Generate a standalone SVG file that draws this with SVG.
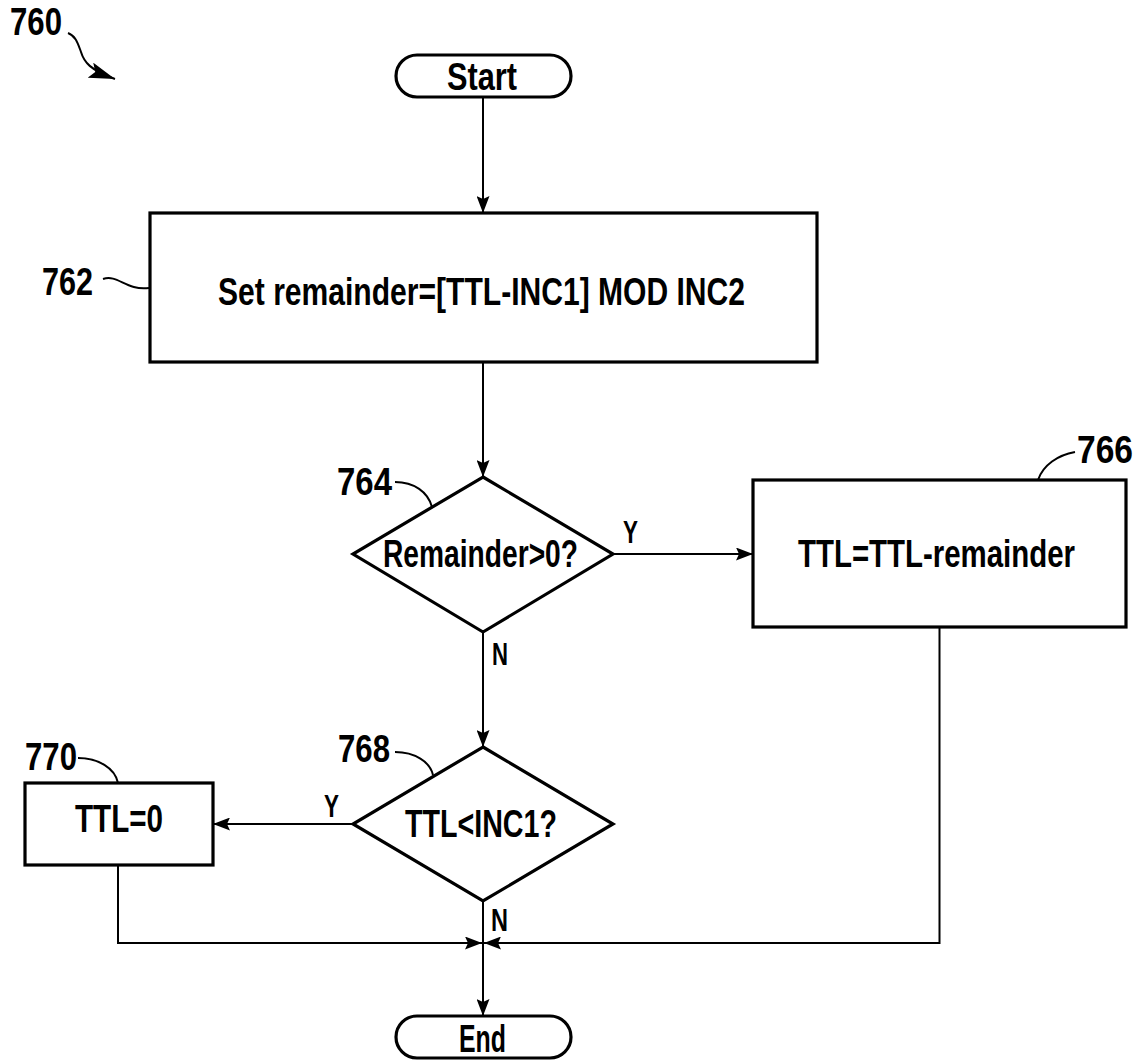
<svg xmlns="http://www.w3.org/2000/svg" width="1144" height="1060" viewBox="0 0 1144 1060">
<style>
.s{fill:#fff;stroke:#000;stroke-width:3.2}
.c{fill:none;stroke:#000;stroke-width:2}
.l{fill:none;stroke:#000;stroke-width:2}
text{font-family:"Liberation Sans",Arial,sans-serif;fill:#000;font-size:38px;font-weight:bold}
.y{font-size:31px}
</style>
<defs>
<marker id="b" viewBox="0 0 17 13" refX="17" refY="6.5" markerWidth="17" markerHeight="13" markerUnits="userSpaceOnUse" orient="auto"><path d="M0,0L17,6.5L0,13L3,6.5z" fill="#000"/></marker>
<marker id="big" viewBox="0 0 26 16" refX="26" refY="8" markerWidth="26" markerHeight="16" markerUnits="userSpaceOnUse" orient="auto"><path d="M0,0L26,8L0,16L5,8z" fill="#000"/></marker>
</defs>
<g id="label760">
<text x="10" y="35" textLength="52" lengthAdjust="spacingAndGlyphs">760</text>
<path class="l" d="M68,33 C76,36 78,44 81,52 C84,62 90,70 115,79" marker-end="url(#big)"/>
</g>
<g id="connectors">
<line class="c" x1="483" y1="97" x2="483" y2="213" marker-end="url(#b)"/>
<line class="c" x1="483" y1="362" x2="483" y2="477" marker-end="url(#b)"/>
<line class="c" x1="613" y1="554" x2="753" y2="554" marker-end="url(#b)"/>
<line class="c" x1="483" y1="632" x2="483" y2="747" marker-end="url(#b)"/>
<line class="c" x1="353" y1="824" x2="213" y2="824" marker-end="url(#b)"/>
<polyline class="c" points="939.5,627 939.5,943 484,943" marker-end="url(#b)"/>
<polyline class="c" points="118,865 118,943 482,943" marker-end="url(#b)"/>
<line class="c" x1="483" y1="901" x2="483" y2="1016" marker-end="url(#b)"/>
<text class="y" x="623" y="543" textLength="15" lengthAdjust="spacingAndGlyphs">Y</text>
<text class="y" x="492" y="665" textLength="16" lengthAdjust="spacingAndGlyphs">N</text>
<text class="y" x="324" y="817" textLength="15" lengthAdjust="spacingAndGlyphs">Y</text>
<text class="y" x="491" y="931" textLength="17" lengthAdjust="spacingAndGlyphs">N</text>
</g>
<g id="start">
<rect class="s" x="396" y="55" width="175" height="42" rx="21"/>
<text x="447" y="90" textLength="70" lengthAdjust="spacingAndGlyphs">Start</text>
</g>
<g id="n762">
<rect class="s" x="150" y="213" width="667" height="149"/>
<text x="218" y="305" textLength="527" lengthAdjust="spacingAndGlyphs">Set remainder=[TTL-INC1] MOD INC2</text>
<text x="42" y="295" textLength="51" lengthAdjust="spacingAndGlyphs">762</text>
<path class="l" d="M103,279 C118,274 126,291 149,288"/>
</g>
<g id="n764">
<polygon class="s" points="483,477 613,554 483,632 353,554"/>
<text x="383" y="567" textLength="195" lengthAdjust="spacingAndGlyphs">Remainder&gt;0?</text>
<text x="337" y="495" textLength="55" lengthAdjust="spacingAndGlyphs">764</text>
<path class="l" d="M395,482 C414,482 428,492 432,507"/>
</g>
<g id="n766">
<rect class="s" x="753" y="480" width="373" height="147"/>
<text x="798" y="567" textLength="277" lengthAdjust="spacingAndGlyphs">TTL=TTL-remainder</text>
<text x="1077" y="463" textLength="56" lengthAdjust="spacingAndGlyphs">766</text>
<path class="l" d="M1075,452 C1058,455 1043,465 1038,480"/>
</g>
<g id="n768">
<polygon class="s" points="483,747 613,824 483,901 353,824"/>
<text x="405" y="837" textLength="152" lengthAdjust="spacingAndGlyphs">TTL&lt;INC1?</text>
<text x="338" y="762" textLength="52" lengthAdjust="spacingAndGlyphs">768</text>
<path class="l" d="M395,752 C415,752 430,762 433,775"/>
</g>
<g id="n770">
<rect class="s" x="25" y="783" width="188" height="82"/>
<text x="75" y="832" textLength="88" lengthAdjust="spacingAndGlyphs">TTL=0</text>
<text x="25" y="770" textLength="52" lengthAdjust="spacingAndGlyphs">770</text>
<path class="l" d="M78,758 C98,758 115,768 118,783"/>
</g>
<g id="end">
<rect class="s" x="396" y="1016" width="175" height="42" rx="21"/>
<text x="459" y="1052" textLength="47" lengthAdjust="spacingAndGlyphs">End</text>
</g>
</svg>
